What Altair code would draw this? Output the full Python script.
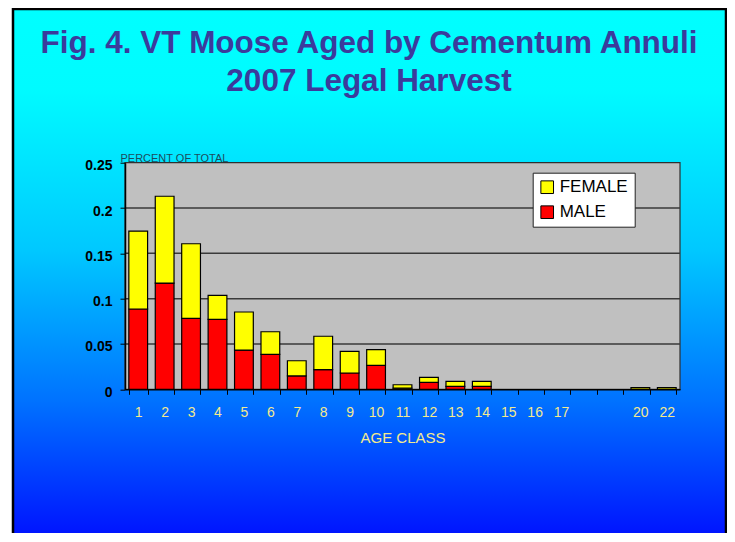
import altair as alt
import pandas as pd

# ---- data ----
ages = ["1", "2", "3", "4", "5", "6", "7", "8", "9", "10", "11", "12", "13", "14",
        "15", "16", "17", " ", "  ", "20", "22"]
male = [0.0886, 0.1172, 0.0783, 0.0772, 0.0433, 0.0386, 0.0147, 0.0216, 0.0180, 0.0265,
        0.0012, 0.0077, 0.0033, 0.0033, 0.0, 0.0, 0.0, 0.0, 0.0, 0.0, 0.0]
female = [0.0860, 0.0958, 0.0823, 0.0265, 0.0420, 0.0249, 0.0168, 0.0369, 0.0239, 0.0172,
          0.0038, 0.0055, 0.0055, 0.0055, 0.0, 0.0, 0.0, 0.0, 0.0, 0.0018, 0.0018]
sexes = ["FEMALE", "MALE"]
sex_colors = ["#ffff00", "#ff0000"]
y_ticks = [0, 0.05, 0.1, 0.15, 0.2, 0.25]
grid_vals = [0.05, 0.1, 0.15, 0.2]
title_lines = ["Fig. 4. VT Moose Aged by Cementum Annuli", "2007 Legal Harvest"]

rows = []
for a, m, f in zip(ages, male, female):
    rows.append({"age": a, "sex": "MALE", "value": m, "ord": 0})
    rows.append({"age": a, "sex": "FEMALE", "value": f, "ord": 1})
df = pd.DataFrame(rows)

W, H = 555, 226.6
PL, PT = 117, 154.7
SANS = "Liberation Sans, Arial, sans-serif"
one = pd.DataFrame({"k": [0]})

gradient = alt.Gradient(
    gradient="linear",
    stops=[
        alt.GradientStop(color="#00ffff", offset=0),
        alt.GradientStop(color="#00fbff", offset=0.15),
        alt.GradientStop(color="#00c8ff", offset=0.45),
        alt.GradientStop(color="#0072ff", offset=0.73),
        alt.GradientStop(color="#000cff", offset=1),
    ],
    x1=0, x2=0, y1=0, y2=1,
)

y_scale = alt.Scale(domain=[0, 0.25], nice=False)
y_axis = alt.Axis(values=y_ticks, format=".2~f", title="PERCENT OF TOTAL",
                  titleAngle=0, titleAlign="left", titleBaseline="alphabetic",
                  titleX=-5, titleY=-1, titleColor="#1e4c5c", titleFont=SANS,
                  titleFontSize=11, titleFontWeight="normal",
                  labelFont=SANS, labelFontSize=14, labelFontWeight="bold",
                  labelColor="black", labelPadding=8, labelOffset=3,
                  tickColor="black", tickSize=5, domainColor="black",
                  domainWidth=1.5, grid=False, zindex=1)

bg = alt.Chart(one).mark_rect(fill=gradient, stroke="black", strokeWidth=2.5).encode(
    x=alt.value(13 - 125), x2=alt.value(726 - 125),
    y=alt.value(9 - 162.7), y2=alt.value(546 - 162.7),
)

plotbg = alt.Chart(one).mark_rect(fill="#c0c0c0", stroke="#303030", strokeWidth=1.2).encode(
    x=alt.value(0), x2=alt.value(W), y=alt.value(0), y2=alt.value(H)
)

grid = alt.Chart(pd.DataFrame({"value": grid_vals})).mark_rule(
    color="#3a3a3a", strokeWidth=1.5
).encode(
    y=alt.Y("value:Q", scale=y_scale, axis=y_axis),
    x=alt.value(0), x2=alt.value(W),
)

bars = alt.Chart(df).transform_filter("datum.value > 0").mark_bar(
    stroke="black", strokeWidth=1.2
).encode(
    x=alt.X("age:N", sort=ages,
            scale=alt.Scale(domain=ages, paddingInner=0.29, paddingOuter=0.145),
            axis=alt.Axis(title="AGE CLASS", labelAngle=0, tickBand="extent",
                          labelColor="#f3ea8e", labelFont=SANS, labelFontSize=14,
                          labelPadding=11, tickColor="black", tickSize=5,
                          domainColor="black", domainWidth=1.5,
                          titleColor="#f3ea8e", titleFont=SANS, titleFontSize=15,
                          titleFontWeight="normal", titlePadding=11, zindex=1)),
    y=alt.Y("value:Q", stack="zero", scale=y_scale, axis=y_axis),
    color=alt.Color("sex:N", scale=alt.Scale(domain=sexes, range=sex_colors),
                    legend=alt.Legend(orient="none", legendX=407.7, legendY=10, title=None,
                                      fillColor="white", strokeColor="#222222",
                                      padding=6, rowPadding=7, symbolType="square",
                                      symbolSize=160, symbolStrokeColor="black",
                                      symbolStrokeWidth=1, symbolOpacity=1,
                                      labelFont=SANS, labelFontSize=17,
                                      labelColor="black", labelOffset=4)),
    order=alt.Order("ord:Q"),
)

title = alt.Chart(one).mark_text(
    text=title_lines, font=SANS, fontSize=31.5, fontWeight="bold", color="#3b3b9c",
    align="center", baseline="alphabetic", lineHeight=38,
).encode(x=alt.value(244), y=alt.value(-110))

chart = alt.layer(bg, plotbg, grid, bars, title).properties(
    width=W, height=H,
    autosize=alt.AutoSizeParams(type="none"),
    padding={"left": PL, "top": PT, "right": 47, "bottom": 144},
).configure(background="white").configure_view(stroke=None)

chart.save("out.html", embed_options={"renderer": "svg", "actions": False})
